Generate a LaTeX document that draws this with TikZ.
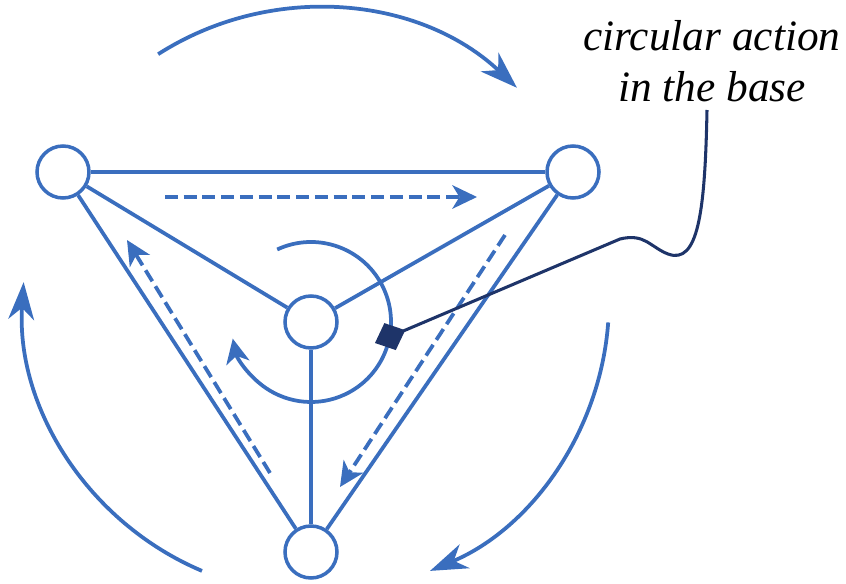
\documentclass[tikz,border=0pt]{standalone}
\usepackage{fontspec}
\setmainfont{Liberation Serif}
\usetikzlibrary{arrows.meta,calc}
\definecolor{graphblue}{RGB}{58,110,190}
\definecolor{notenavy}{RGB}{30,52,105}

\tikzset{
    vertex/.style={circle, draw=graphblue, line width=3pt, minimum size=1.56cm, inner sep=0pt, fill=white},
    edge/.style={draw=graphblue, line width=3.2pt},
    flow/.style={graphblue, line width=3.2pt, dash pattern=on 11pt off 5pt, -{Stealth[length=21pt,width=20pt,inset=6pt]}},
    turn/.style={graphblue, line width=3.2pt, -{Stealth[length=32pt,width=22pt,inset=10pt]}},
    note/.style={notenavy, line width=2.6pt}
}

\begin{document}
\begin{tikzpicture}[x=0.03cm, y=0.03cm]
    \useasboundingbox (0,0) rectangle (846,583);

    % vertices
    \node[vertex] (L) at (63,411) {};
    \node[vertex] (R) at (573,411) {};
    \node[vertex] (C) at (311,261) {};
    \node[vertex] (B) at (311,31) {};

    % edges
    \draw[edge] (L) -- (R);
    \draw[edge] (L) -- (C);
    \draw[edge] (L) -- (B);
    \draw[edge] (R) -- (C);
    \draw[edge] (R) -- (B);
    \draw[edge] (C) -- (B);

    % dashed flows along the sides
    \coordinate (t1) at (165,386);
    \coordinate (t2) at (477,386);
    \coordinate (r1) at (505,348);
    \coordinate (r2) at (340,96);
    \coordinate (l1) at (270,110);
    \coordinate (l2) at (127,343);
    \draw[flow] (t1) -- (t2);
    \draw[flow] (r1) -- (r2);
    \draw[flow] (l1) -- (l2);

    % outer rotation
    \coordinate (hub) at (316,282);
    \draw[turn] ($(hub)+(122.6:293)$) arc[start angle=122.6, end angle=46.7, radius=293];
    \draw[turn] ($(hub)+(-4.2:293)$) arc[start angle=-4.2, end angle=-67.1, radius=293];
    \draw[turn] ($(hub)+(247.1:293)$) arc[start angle=247.1, end angle=176.3, radius=293];

    % rotation about the centre
    \draw[flow, dash pattern={}] ($(C)+(115:80)$) arc[start angle=115, end angle=-168, radius=80];

    % annotation
    \node[font=\rmfamily\fontsize{37}{43}\selectfont\itshape, align=center, inner sep=0pt, anchor=south] (label) at (712,481) {circular action\\in the base};
    \coordinate (mark) at (375,240);
    \draw[note, -{Diamond[length=28pt,width=25pt]}] ($(label.south)+(-5,-8)$)
        .. controls (705,370) and (698,318) .. (668,329)
        .. controls (650,336) and (645,350) .. (620,344) -- (mark);
\end{tikzpicture}
\end{document}
